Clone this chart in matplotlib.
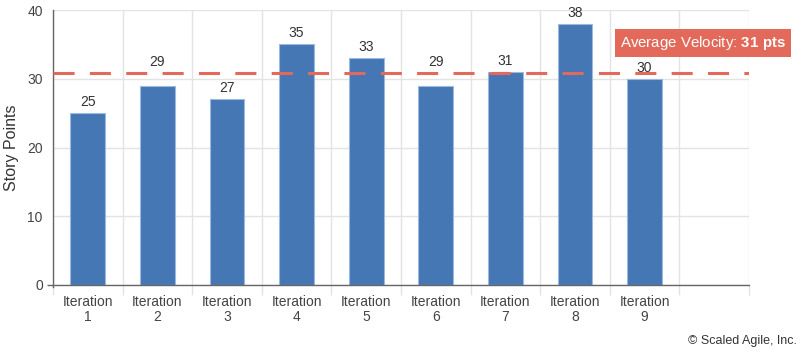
import numpy as np
import matplotlib
matplotlib.use("Agg")
import matplotlib.pyplot as plt

plt.rcParams['font.family'] = ['Liberation Sans', 'DejaVu Sans']
plt.rcParams['mathtext.fontset'] = 'custom'
plt.rcParams['mathtext.bf'] = 'Liberation Sans:bold'
plt.rcParams['mathtext.rm'] = 'Liberation Sans'

# data
iterations = ['Iteration\n1', 'Iteration\n2', 'Iteration\n3', 'Iteration\n4', 'Iteration\n5',
              'Iteration\n6', 'Iteration\n7', 'Iteration\n8', 'Iteration\n9', '']
story_points = [25, 29, 27, 35, 33, 29, 31, 38, 30]
y_ticks = [0, 10, 20, 30, 40]

BAR_COLOR = '#4577b5'
AVG_COLOR = '#e36a5a'
GRID_COLOR = '#e3e3e3'
AXIS_COLOR = '#666666'
TEXT_COLOR = '#444444'

avg = np.mean(story_points)

fig = plt.figure(figsize=(8, 3.51), dpi=100)
ax = fig.add_axes([53 / 800, (351 - 285) / 351, 696 / 800, 275 / 351])

x = np.arange(len(iterations))
ax.bar(x[:len(story_points)], story_points, width=0.5, color=BAR_COLOR,
       edgecolor='#9db9df', linewidth=0.8, zorder=3)

ax.set_xlim(-0.5, len(iterations) - 0.5)
ax.set_ylim(0, 40)

# grid: horizontal at y ticks, vertical at category boundaries
ax.set_yticks(y_ticks)
ax.set_xticks(x)
ax.set_xticklabels(iterations, fontsize=10, color=TEXT_COLOR, linespacing=1.1)
ax.set_xticks(np.arange(-0.5, len(iterations)), minor=True)
ax.grid(axis='y', color=GRID_COLOR, linewidth=1, zorder=0)
ax.grid(axis='x', which='minor', color=GRID_COLOR, linewidth=1, zorder=0)
ax.tick_params(axis='x', which='major', length=0, pad=7)
ax.tick_params(axis='x', which='minor', length=7.2, width=1, color=GRID_COLOR)
ax.tick_params(axis='y', length=4.3, width=1, color=AXIS_COLOR, pad=3,
               labelsize=10, labelcolor=TEXT_COLOR)
for t in ax.yaxis.get_major_ticks()[1:]:
    t.tick1line.set_visible(False)

for s in ['top', 'right']:
    ax.spines[s].set_visible(False)
ax.spines['left'].set_color(AXIS_COLOR)
ax.spines['bottom'].set_color(AXIS_COLOR)
ax.spines['left'].set_linewidth(1)
ax.spines['bottom'].set_linewidth(1)
ax.spines['left'].set_bounds(-0.36, 40)
ax.spines['bottom'].set_zorder(4)

ax.set_ylabel('Story Points', fontsize=11.5, color='#333333', labelpad=6)

# average velocity line
ax.axhline(avg, color=AVG_COLOR, linewidth=2.2, dashes=(6.9, 5), zorder=4)

# value labels, lifted above the average line when they would collide
for xi, v in zip(x, story_points):
    y_lab = avg if avg - 2.5 < v < avg - 1 else v
    ax.annotate(str(v), (xi, y_lab), xytext=(0, 3), textcoords='offset points',
                ha='center', va='bottom', fontsize=10, color='#333333', zorder=5)

avg_text = r'Average Velocity: $\bf{%d\ pts}$' % int(round(avg))
fig.text(786 / 800, 1 - 43 / 351, avg_text,
         ha='right', va='center', fontsize=10.8, color='white',
         bbox=dict(boxstyle='square,pad=0.32', facecolor=AVG_COLOR, edgecolor='none'))

fig.text(797 / 800, 1 - 341 / 351, '\u00a9 Scaled Agile, Inc.', ha='right', va='center',
         fontsize=9, color='#333333')

fig.savefig('out.png', dpi=100, facecolor='white')
